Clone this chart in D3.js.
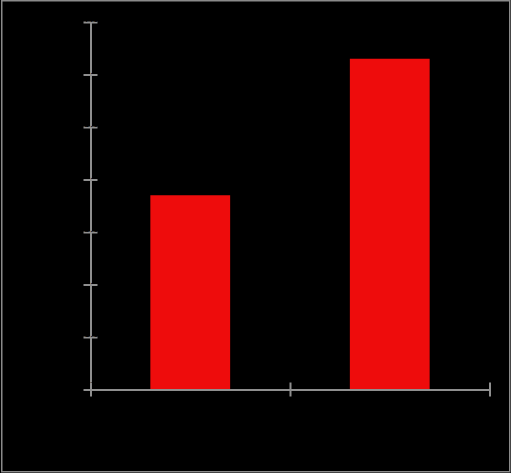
<!DOCTYPE html>
<html>
<head>
<meta charset="utf-8">
<script src="https://cdn.jsdelivr.net/npm/d3@7"></script>
<style>
html,body{margin:0;padding:0;background:#000;overflow:hidden;}
svg{display:block;}
</style>
</head>
<body>
<script>
const categories = ["A", "B"];
const values = [3.70, 6.30];
const yTicks = [0, 1, 2, 3, 4, 5, 6, 7];
const xTicks = [0, 1, 2];

(function () {
const W = 511, H = 473;
const svg = d3.select("body").append("svg").attr("width", W).attr("height", H);

svg.append("rect").attr("x", 0).attr("y", 0).attr("width", W).attr("height", H).attr("fill", "#000");
svg.append("rect").attr("x", 1.75).attr("y", 0.75).attr("width", 508).attr("height", 471)
  .attr("fill", "none").attr("stroke", "#8a8a8a").attr("stroke-width", 1.5);

const mLeft = 90.5, mRight = 489.5, mTop = 22, mBottom = 389.5;
const y = d3.scaleLinear().domain([0, 7]).range([mBottom, mTop]);
const xl = d3.scaleLinear().domain([0, 2]).range([mLeft, mRight]);
const xb = d3.scaleBand().domain(categories).range([mLeft, mRight]).padding(0);

// bars
svg.append("g").selectAll("rect").data(values).join("rect")
  .attr("x", (d, i) => xb(categories[i]) + xb.bandwidth() * 0.3)
  .attr("width", xb.bandwidth() * 0.4)
  .attr("y", d => y(d))
  .attr("height", d => y(0) - y(d))
  .attr("fill", "#ee0c0c");

const axisColor = "#8f8f8f";

// y axis
const gy = svg.append("g").attr("transform", `translate(${mLeft},0)`)
  .call(d3.axisLeft(y).tickValues(yTicks).tickSizeInner(7).tickSizeOuter(0).tickPadding(-10)
    .tickFormat(d => d === 0 ? "0" : d3.format(".1f")(d)));
gy.select(".domain").attr("stroke", axisColor).attr("stroke-width", 2);
gy.selectAll(".tick line").attr("stroke", axisColor).attr("stroke-width", 2).attr("x1", -7).attr("x2", 7);
gy.selectAll(".tick text").attr("fill", "#000").attr("font-size", 9).attr("font-family", "DejaVu Sans")
  .attr("text-anchor", "middle").attr("x", 1).attr("dy", "-0.1em");

// x axis
const gx = svg.append("g").attr("transform", `translate(0,${mBottom})`)
  .call(d3.axisBottom(xl).tickValues(xTicks).tickSizeInner(7).tickSizeOuter(0).tickPadding(2));
gx.select(".domain").attr("stroke", axisColor).attr("stroke-width", 2);
gx.selectAll(".tick line").attr("stroke", axisColor).attr("stroke-width", 2).attr("y1", -7).attr("y2", 7);
gx.selectAll(".tick text").attr("fill", "#000").attr("font-size", 9).attr("font-family", "DejaVu Sans");
})();
</script>
</body>
</html>
